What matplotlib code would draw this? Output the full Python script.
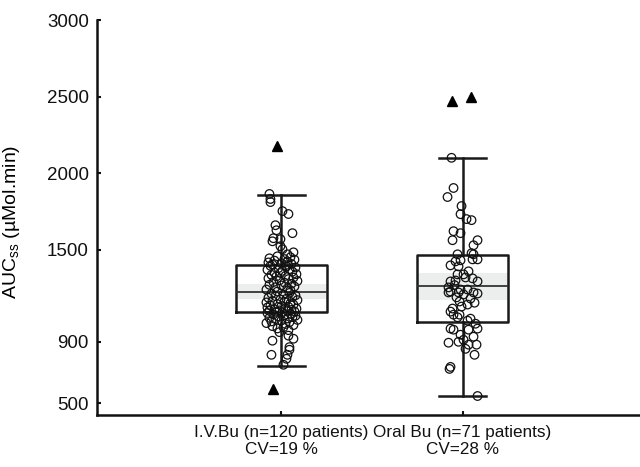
import numpy as np
import matplotlib
matplotlib.use("Agg")
import matplotlib.pyplot as plt

plt.rcParams['font.family'] = ['Liberation Sans', 'DejaVu Sans']

# --- data ---
groups = ['I.V.Bu (n=120 patients)\nCV=19 %', 'Oral Bu (n=71 patients)\nCV=28 %']
medians = [1222, 1261]
q1 = [1097, 1031]
q3 = [1399, 1465]
whis_lo = [743, 546]
whis_hi = [1858, 2101]
ci_lo = [1182, 1176]
ci_hi = [1274, 1346]

# outliers (triangles) and their small sideways offsets (px)
out_iv = [2180, 592]
out_iv_dx = [-4, -8]
out_oral = [2469, 2495]
out_oral_dx = [-11, 8]

# individual patients (circles), values and sideways offsets (px)
iv_vals = [1865, 1832, 1812, 1753, 1734, 1661, 1628, 1609, 1576, 1570, 1556, 1524, 1504, 1484, 1471,
           1458, 1452, 1445, 1440, 1436, 1430, 1424, 1418, 1413, 1408, 1404, 1400,
           1396, 1391, 1385, 1381, 1374, 1370, 1363, 1358, 1352, 1349, 1341, 1337, 1330, 1327, 1319,
           1314, 1309, 1301, 1297, 1290, 1286, 1279, 1272, 1268, 1261, 1256, 1249, 1241, 1236, 1228,
           1219, 1214, 1207, 1203, 1198, 1192, 1187, 1181, 1176, 1172, 1166, 1161, 1157, 1151, 1146,
           1142, 1137, 1133, 1128, 1124, 1120, 1116, 1112, 1108, 1105, 1102, 1100, 1098, 1095, 1092,
           1088, 1083, 1079, 1074, 1070, 1066, 1061, 1057, 1052, 1048, 1043, 1039, 1033, 1028, 1022,
           1016, 1009, 1002, 995, 987, 976, 963,
           940, 920, 907, 865, 848, 815, 815, 789, 750]
iv_dx = [-12, -11, -11, 1, 7, -6, -5, 11, -8, -1, -9, -1, 1, 12, 6,
         -4, 9, -12, 3, 13, -7, 6, -13, 0, 10, -9, 4,
         -11, 5, 14, -3, 8, -14, 1, 11, -7, -1, 15, -10, 4, -5, 12,
         -13, 7, -2, 16, -8, 3, 10, -12, 0, 13, -6, 6, -15, 9, -4,
         8, -10, 2, 14, -6, 11, -13, 5, -1, 16, -9, 3, -15, 9, -4,
         12, -11, 0, 7, -14, 4, 15, -7, 10, -2, -12, 6, 13, -5, 1,
         -14, 9, -8, 3, 14, -3, 11, -12, 6, -6, 16, 0, -10, 8, -15,
         4, 12, -9, 2, -4, 7, -2,
         7, 12, -9, 8, 8, -10, 6, 5, 2]

oral_vals = [2101, 1904, 1845, 1786, 1733, 1701, 1694, 1622, 1609, 1563, 1563, 1530, 1471, 1478, 1471,
             1438, 1438, 1425, 1432, 1399, 1392, 1360, 1340, 1340, 1294, 1300, 1294, 1320, 1314, 1270,
             1255, 1228, 1241, 1241, 1215, 1222, 1222, 1222, 1209, 1190, 1182, 1163, 1155, 1143, 1130,
             1117, 1097, 1077, 1077, 1060, 1051, 1038, 1018, 986, 979, 986, 979, 946, 933, 913,
             900, 894, 881, 881, 854, 815, 736, 723, 546]
oral_dx = [-11, -9, -15, -1, -2, 4, 9, -9, -2, -10, 15, 11, -5, 9, 11,
           10, 15, -7, -2, -12, -4, 6, 1, -5, -12, -7, 15, 3, 10, -8,
           -14, -12, -2, 5, 15, -14, -4, 11, 1, -6, 8, -3, 12, 5, -1,
           -10, -12, -9, -3, -5, 8, 5, 13, -12, -9, 15, 6, -2, 11, 1,
           -4, -14, 14, 6, 3, 12, -12, -13, 15]

# --- layout ---
positions = [1, 2]
px_per_unit = 181.0   # pixels between the two groups in the original
box_w = 0.5
cap_w = 0.26

fig = plt.figure(figsize=(6.4, 4.67), dpi=100)
ax = fig.add_axes([0.152, 0.111, 0.848, 0.846])

stats = []
for i in range(2):
    stats.append({'med': medians[i], 'q1': q1[i], 'q3': q3[i],
                  'whislo': whis_lo[i], 'whishi': whis_hi[i], 'fliers': []})

# grey confidence band across the box
for i, p in enumerate(positions):
    ax.fill_between([p - box_w / 2, p + box_w / 2], ci_lo[i], ci_hi[i],
                    color='#eceeed', lw=0, zorder=1)

ax.bxp(stats, positions=positions, widths=box_w, capwidths=cap_w,
       boxprops=dict(color='#1a1a1a', lw=1.8),
       whiskerprops=dict(color='#1a1a1a', lw=1.8),
       capprops=dict(color='#1a1a1a', lw=1.8),
       medianprops=dict(color='#333333', lw=1.3),
       manage_ticks=False, zorder=2)

ax.scatter(positions[0] + np.array(iv_dx) / px_per_unit, iv_vals, s=38,
           facecolors='none', edgecolors='#111111', linewidths=0.9, zorder=3)
ax.scatter(positions[1] + np.array(oral_dx) / px_per_unit, oral_vals, s=38,
           facecolors='none', edgecolors='#111111', linewidths=0.9, zorder=3)

ax.plot(positions[0] + np.array(out_iv_dx) / px_per_unit, out_iv, '^',
        color='black', ms=6.5, zorder=3)
ax.plot(positions[1] + np.array(out_oral_dx) / px_per_unit, out_oral, '^',
        color='black', ms=6.5, zorder=3)

ax.set_xlim(-0.017, 2.98)
ax.set_ylim(421, 3000)
ax.set_yticks([500, 900, 1500, 2000, 2500, 3000])
ax.set_xticks(positions)
ax.set_xticklabels(groups, fontsize=12.3)
ax.tick_params(axis='y', labelsize=13.5)
ax.tick_params(direction='in', length=3, width=1.5, colors='#111111')
ax.tick_params(axis='x', pad=7)
ax.tick_params(axis='y', pad=6)

for s in ['top', 'right']:
    ax.spines[s].set_visible(False)
for s in ['left', 'bottom']:
    ax.spines[s].set_linewidth(1.8)
    ax.spines[s].set_color('#111111')

ax.set_ylabel('AUC$_\\mathregular{ss}$ (\u00b5Mol.min)', fontsize=14)
ax.yaxis.set_label_coords(-0.138, 0.49)

fig.savefig('out.png', dpi=100)
